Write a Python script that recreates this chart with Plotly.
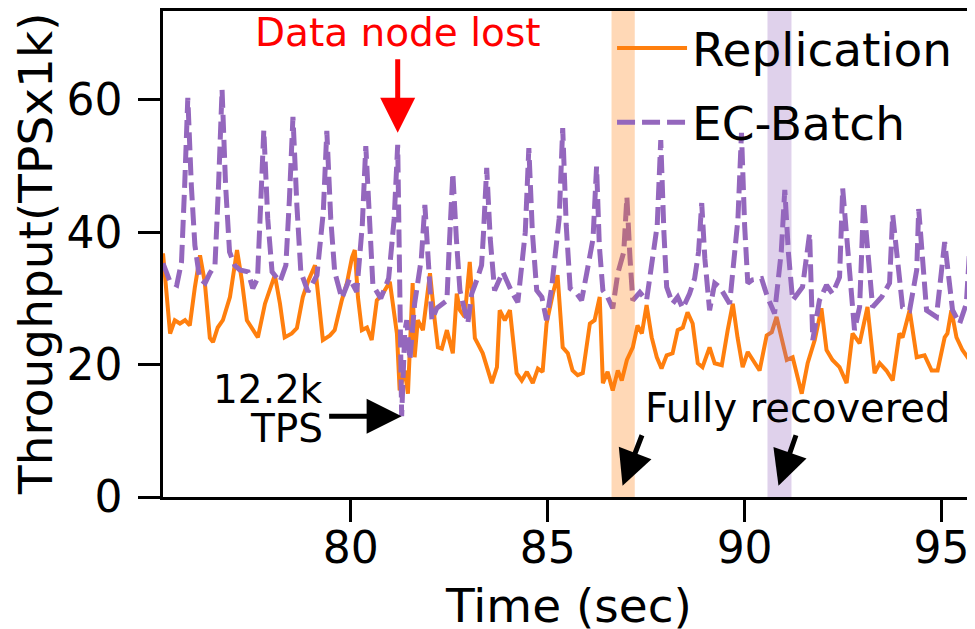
import plotly.graph_objects as go

# ---------------- data ----------------
rep_time = [75.23, 75.41, 75.53, 75.66, 75.79, 75.91, 76.04, 76.17, 76.29, 76.42, 76.50, 76.62, 76.75, 76.93,
            77.11, 77.23, 77.36, 77.49, 77.64, 77.82, 78.07, 78.20, 78.32, 78.50, 78.63, 78.78, 78.91, 79.09,
            79.21, 79.29, 79.47, 79.59, 79.77, 79.90, 80.03, 80.10, 80.18, 80.28, 80.41, 80.53, 80.66, 80.81,
            80.99, 81.17, 81.24, 81.37, 81.45, 81.57, 81.62, 81.70, 81.83, 82.01, 82.13, 82.21, 82.31, 82.44,
            82.59, 82.69, 82.77, 82.89, 83.02, 83.15, 83.22, 83.35, 83.58, 83.71, 83.78, 83.91, 84.04, 84.21,
            84.34, 84.47, 84.62, 84.75, 84.87, 84.97, 85.13, 85.25, 85.38, 85.51, 85.63, 85.76, 85.89, 86.07,
            86.19, 86.32, 86.40, 86.52, 86.65, 86.78, 86.88, 87.01, 87.16, 87.28, 87.39, 87.51, 87.64, 87.77,
            87.89, 88.02, 88.17, 88.30, 88.43, 88.55, 88.68, 88.81, 88.93, 89.11, 89.24, 89.42, 89.57, 89.70,
            89.82, 89.95, 90.08, 90.25, 90.38, 90.56, 90.69, 90.81, 90.94, 91.07, 91.22, 91.45, 91.60, 91.78,
            91.95, 92.08, 92.23, 92.41, 92.59, 92.74, 92.92, 93.12, 93.30, 93.43, 93.60, 93.76, 93.93, 94.01,
            94.19, 94.37, 94.57, 94.75, 94.90, 95.08, 95.15, 95.25, 95.38, 95.53, 95.71, 95.84]
rep_tps = [36.8, 24.7, 26.7, 26.2, 26.7, 25.9, 31.7, 36.5, 32.5, 24.0, 23.4, 25.6, 26.7, 30.2,
           37.3, 32.8, 26.7, 25.6, 24.1, 29.2, 33.5, 29.2, 24.1, 24.7, 25.5, 30.2, 32.5, 35.0,
           28.7, 23.7, 24.4, 25.2, 29.7, 32.3, 36.2, 37.3, 30.2, 25.2, 25.6, 23.7, 29.7, 30.7,
           32.5, 24.7, 16.1, 19.1, 15.6, 32.3, 21.1, 26.7, 25.2, 33.8, 26.7, 22.6, 22.4, 25.2,
           21.7, 30.7, 28.2, 27.2, 35.5, 24.0, 23.2, 21.7, 17.2, 19.6, 28.2, 26.7, 28.2, 18.7,
           17.6, 18.9, 17.2, 19.4, 18.9, 26.2, 30.7, 33.5, 22.6, 21.7, 19.1, 18.4, 18.7, 26.2,
           26.7, 30.2, 17.2, 18.9, 16.1, 19.1, 17.6, 20.7, 22.6, 25.9, 24.7, 29.0, 24.1, 21.1,
           19.4, 21.4, 21.7, 25.2, 25.6, 27.9, 26.2, 20.2, 19.6, 22.6, 20.2, 19.9, 25.2, 29.2,
           24.1, 19.6, 21.9, 20.3, 19.1, 24.4, 24.9, 27.2, 24.1, 20.7, 21.1, 15.6, 20.2, 23.7,
           28.5, 22.2, 20.7, 19.6, 17.2, 24.7, 23.2, 28.7, 18.7, 20.2, 19.1, 17.6, 24.7, 24.1,
           28.2, 21.1, 21.4, 19.1, 19.1, 24.1, 24.7, 28.2, 24.1, 22.2, 20.7, 21.7]

ec_time = [75.23, 75.41, 75.58, 75.70, 75.78, 75.86, 75.95, 76.04, 76.16, 76.30,
           76.42, 76.55, 76.64, 76.73, 76.82, 76.92, 77.05, 77.18, 77.39, 77.51,
           77.63, 77.70, 77.79, 77.89, 78.00, 78.20, 78.35, 78.44, 78.53, 78.63,
           78.73, 78.91, 79.14, 79.30, 79.39, 79.49, 79.59, 79.77, 79.97, 80.15,
           80.29, 80.38, 80.47, 80.56, 80.76, 80.96, 81.10, 81.19, 81.29, 81.37,
           81.42, 81.50, 81.62, 81.79, 81.88, 81.97, 82.06, 82.18, 82.44, 82.50,
           82.59, 82.68, 82.77, 82.97, 83.07, 83.20, 83.32, 83.37, 83.45, 83.54,
           83.65, 83.86, 84.09, 84.24, 84.43, 84.52, 84.61, 84.72, 84.85, 84.97,
           85.10, 85.29, 85.38, 85.47, 85.57, 85.74, 85.86, 85.99, 86.15, 86.24,
           86.31, 86.40, 86.52, 86.65, 86.78, 86.93, 87.01, 87.09, 87.16, 87.34,
           87.51, 87.78, 87.87, 87.95, 88.02, 88.17, 88.30, 88.43, 88.60, 88.73,
           88.83, 88.91, 88.99, 89.11, 89.24, 89.37, 89.62, 89.83, 89.92, 90.00,
           90.08, 90.20, 90.43, 90.58, 90.76, 90.93, 91.02, 91.11, 91.22, 91.47,
           91.65, 91.73, 91.90, 92.08, 92.23, 92.41, 92.49, 92.79, 92.92, 93.02,
           93.25, 93.48, 93.68, 93.76, 94.01, 94.19, 94.37, 94.42, 94.62, 94.87,
           95.08, 95.28, 95.46, 95.63, 95.79]
ec_tps = [35.3, 32.5, 32.0, 35.5, 47.0, 60.3, 47.0, 38.0, 33.0, 32.3,
          33.8, 35.0, 47.0, 61.5, 47.0, 37.0, 35.0, 34.3, 34.0, 31.5,
          33.0, 43.0, 55.4, 42.0, 34.0, 32.5, 35.0, 45.0, 57.4, 44.0,
          34.0, 31.0, 33.5, 43.0, 55.3, 42.0, 34.0, 30.0, 33.0, 31.0,
          41.0, 53.0, 41.0, 32.0, 30.0, 33.0, 42.0, 53.2, 12.2, 25.0,
          26.7, 20.7, 29.2, 36.0, 44.1, 35.0, 26.7, 28.5, 29.7, 38.0,
          48.9, 39.0, 31.2, 26.2, 30.7, 32.8, 35.0, 40.0, 49.7, 39.0,
          31.2, 34.0, 30.9, 29.4, 40.0, 52.7, 40.0, 31.2, 30.2, 26.7,
          31.7, 42.0, 55.7, 41.0, 31.5, 30.7, 29.7, 33.8, 39.0, 49.9,
          38.0, 31.2, 30.2, 28.5, 33.8, 37.0, 45.3, 36.0, 29.7, 30.9,
          29.7, 41.0, 53.9, 40.0, 31.7, 29.2, 30.2, 28.5, 30.7, 33.0,
          37.0, 44.4, 36.0, 28.2, 32.3, 31.7, 29.2, 42.0, 55.0, 41.0,
          32.3, 32.8, 33.0, 30.2, 27.7, 37.0, 46.4, 37.0, 29.7, 31.7,
          39.8, 23.7, 29.7, 32.0, 30.7, 33.2, 46.6, 25.2, 28.7, 44.6,
          28.7, 30.2, 32.3, 42.6, 28.7, 28.2, 34.3, 43.5, 28.2, 27.2,
          38.5, 28.2, 26.2, 29.2, 44.9]

series_names = ["Replication", "EC-Batch"]
x_ticks = [80, 85, 90, 95]
y_ticks = [0, 20, 40, 60]
x_range = [75.23, 95.85]
y_range = [0, 73.4]

# recovery windows (seconds)
rep_recovered = [86.62, 87.21]
ec_recovered = [90.58, 91.19]

# annotated events
node_lost = (81.19, 55.0)
min_point = (81.29, 12.2)
rep_full = (86.90, 1.7)
ec_full = (90.86, 1.7)

ORANGE = "#ff7f0e"
PURPLE = "#9467bd"
FONT = "DejaVu Sans"

fig = go.Figure()
fig.add_trace(go.Scatter(x=rep_time, y=rep_tps, mode="lines", name=series_names[0],
                         line=dict(color=ORANGE, width=4), legendgroup="a"))
fig.add_trace(go.Scatter(x=ec_time, y=ec_tps, mode="lines", name=series_names[1],
                         line=dict(color=PURPLE, width=5, dash="18px,7px"), legendgroup="b"))
# empty trace that carries the overlay axes used for the visible tick marks
fig.add_trace(go.Scatter(x=[], y=[], xaxis="x2", yaxis="y2", showlegend=False, hoverinfo="skip"))

fig.add_vrect(x0=rep_recovered[0], x1=rep_recovered[1], fillcolor=ORANGE, opacity=0.3,
              line_width=0, layer="above")
fig.add_vrect(x0=ec_recovered[0], x1=ec_recovered[1], fillcolor=PURPLE, opacity=0.3,
              line_width=0, layer="above")

ARROW = dict(showarrow=True, arrowhead=2, arrowsize=1.4, arrowwidth=5, text="")

# Data node lost
fig.add_annotation(x=node_lost[0], y=node_lost[1], arrowcolor="red", ax=0, ay=-75, **ARROW)
fig.add_annotation(x=node_lost[0], y=70.1, yanchor="middle", text="Data node lost",
                   showarrow=False, font=dict(family=FONT, size=39, color="red"))

# 12.2k TPS
fig.add_annotation(x=min_point[0], y=min_point[1], arrowcolor="black", ax=-74, ay=0, **ARROW)
fig.add_annotation(x=79.34, y=16.3, xanchor="right", yanchor="middle", text="12.2k",
                   showarrow=False, font=dict(family=FONT, size=39, color="black"))
fig.add_annotation(x=79.34, y=10.3, xanchor="right", yanchor="middle", text="TPS",
                   showarrow=False, font=dict(family=FONT, size=39, color="black"))

# Fully recovered
fig.add_annotation(x=rep_full[0], y=rep_full[1], arrowcolor="black", ax=20, ay=-52, **ARROW)
fig.add_annotation(x=ec_full[0], y=ec_full[1], arrowcolor="black", ax=18, ay=-52, **ARROW)
fig.add_annotation(x=91.33, y=13.4, xanchor="center", yanchor="middle", text="Fully recovered",
                   showarrow=False, font=dict(family=FONT, size=40, color="black"))

# y-axis title
fig.add_annotation(x=0, y=0.5, xref="paper", yref="paper", xshift=-128, xanchor="center",
                   yanchor="middle", textangle=-90, text="Throughput(TPSx1k)", showarrow=False,
                   font=dict(family=FONT, size=47, color="black"))

# page body adds an 8px offset; figure is sized so the plot area lands where the reference has it
fig.update_layout(
    width=967, height=625,
    margin=dict(l=155, r=0, t=3, b=136, autoexpand=False),
    plot_bgcolor="white", paper_bgcolor="white",
    font=dict(family=FONT, size=44, color="black"),
    showlegend=True,
    legend=dict(x=0.553, y=1.0, xanchor="left", yanchor="top", bgcolor="rgba(0,0,0,0)",
                font=dict(family=FONT, size=47), tracegroupgap=10, itemwidth=70),
    # label-carrying axes (transparent ticks set the label distance)
    xaxis=dict(range=x_range, tickvals=x_ticks, ticks="outside", ticklen=10, tickwidth=3,
               tickcolor="rgba(0,0,0,0)", showline=True, linecolor="black", linewidth=2.5,
               mirror=True, showgrid=False, zeroline=False, tickfont=dict(size=44),
               title=dict(text="Time (sec)", font=dict(size=47), standoff=40), automargin=False),
    yaxis=dict(range=y_range, tickvals=y_ticks, ticks="outside", ticklen=29, tickwidth=3,
               tickcolor="rgba(0,0,0,0)", showline=True, linecolor="black", linewidth=2.5,
               mirror=False, showgrid=False, zeroline=False, tickfont=dict(size=44),
               automargin=False),
    # overlay axes drawing the visible tick marks
    xaxis2=dict(range=x_range, tickvals=x_ticks, ticks="outside", ticklen=24, tickwidth=3,
                tickcolor="black", showticklabels=False, showline=False, showgrid=False,
                zeroline=False, overlaying="x", side="bottom", anchor="y2"),
    yaxis2=dict(range=y_range, tickvals=y_ticks, ticks="outside", ticklen=24, tickwidth=3,
                tickcolor="black", showticklabels=False, showline=False, showgrid=False,
                zeroline=False, overlaying="y", side="left", anchor="x2"),
)

fig.write_html("out.html")
